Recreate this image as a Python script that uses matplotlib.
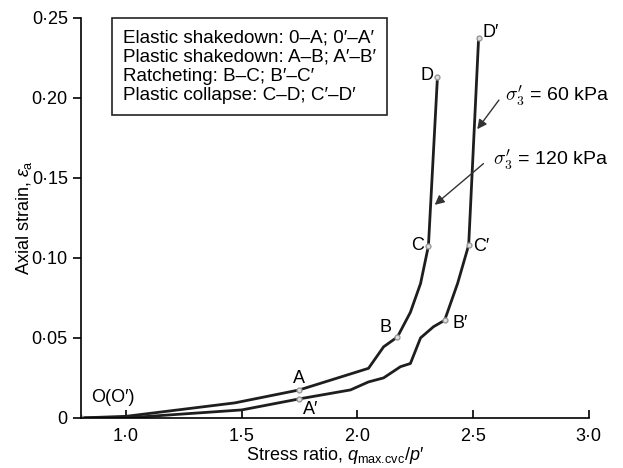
import matplotlib.pyplot as plt
from matplotlib.ticker import FuncFormatter

plt.rcParams['font.family'] = ['Liberation Sans', 'DejaVu Sans']
plt.rcParams['mathtext.fontset'] = 'custom'
plt.rcParams['mathtext.rm'] = 'Liberation Sans'
plt.rcParams['mathtext.it'] = 'Liberation Sans:italic'

# sigma'_3 = 120 kPa curve (O-A-B-C-D)
x120 = [0.805, 1.00, 1.47, 1.749, 2.048, 2.113, 2.173, 2.229, 2.273, 2.307, 2.346]
y120 = [0.0, 0.001, 0.0094, 0.0175, 0.031, 0.0444, 0.0506, 0.066, 0.084, 0.1075, 0.213]
# sigma'_3 = 60 kPa curve (O'-A'-B'-C'-D')
x60 = [0.805, 1.00, 1.50, 1.749, 1.970, 2.048, 2.113, 2.186, 2.229, 2.273, 2.329, 2.377, 2.433, 2.481, 2.524]
y60 = [0.0, 0.0, 0.005, 0.0119, 0.0175, 0.0225, 0.025, 0.032, 0.034, 0.050, 0.057, 0.061, 0.084, 0.108, 0.2375]

# labelled points
pts120 = [(0.805, 0.0), (1.749, 0.0175), (2.173, 0.0506), (2.307, 0.1075), (2.346, 0.213)]
pts60 = [(1.749, 0.0119), (2.377, 0.061), (2.481, 0.108), (2.524, 0.2375)]

fig = plt.figure(figsize=(6.23, 4.68), dpi=100)
ax = fig.add_axes([0.130, 0.107, 0.815, 0.855])

ax.plot(x120, y120, color='#1e1e1e', lw=2.0)
ax.plot(x60, y60, color='#1e1e1e', lw=2.0)
for px, py in pts120 + pts60:
    ax.plot(px, py, 'o', ms=3.5, mfc='#e0e0e0', mec='#999999', mew=1.0)

ax.set_xlim(0.805, 3.0)
ax.set_ylim(0, 0.25)
ax.set_xticks([1.0, 1.5, 2.0, 2.5, 3.0])
ax.set_yticks([0, 0.05, 0.10, 0.15, 0.20, 0.25])
ax.xaxis.set_major_formatter(FuncFormatter(lambda v, p: f'{v:.1f}'.replace('.', '\u00b7')))
ax.yaxis.set_major_formatter(FuncFormatter(lambda v, p: '0' if v == 0 else f'{v:.2f}'.replace('.', '\u00b7')))
ax.tick_params(axis='x', direction='in', length=6, width=1.2, labelsize=13, pad=7)
ax.tick_params(axis='y', direction='out', length=6, width=1.2, labelsize=13)
for s in ['top', 'right']:
    ax.spines[s].set_visible(False)
for s in ['left', 'bottom']:
    ax.spines[s].set_linewidth(1.2)

ax.set_xlabel("Stress ratio, $q_{\\mathrm{max.\\!cvc}}/p$\u2032", fontsize=13, labelpad=0)
ax.set_ylabel(r"Axial strain, $\varepsilon_{\mathrm{a}}$", fontsize=13, labelpad=-2)

# point labels
fs = 13
ax.text(0.85, 0.0125, "O(O\u2032)", fontsize=fs, ha='left', va='center')
ax.text(1.749, 0.0245, "A", fontsize=fs, ha='center', va='center')
ax.text(1.797, 0.0055, "A\u2032", fontsize=fs, ha='center', va='center')
ax.text(2.12, 0.0565, "B", fontsize=fs, ha='center', va='center')
ax.text(2.445, 0.059, "B\u2032", fontsize=fs, ha='center', va='center')
ax.text(2.26, 0.108, "C", fontsize=fs, ha='center', va='center')
ax.text(2.535, 0.107, "C\u2032", fontsize=fs, ha='center', va='center')
ax.text(2.30, 0.214, "D", fontsize=fs, ha='center', va='center')
ax.text(2.575, 0.241, "D\u2032", fontsize=fs, ha='center', va='center')

# legend-like text box
ax.text(0.987, 0.2425,
        "Elastic shakedown: 0\u2013A; 0\u2032\u2013A\u2032\n"
        "Plastic shakedown: A\u2013B; A\u2032\u2013B\u2032\n"
        "Ratcheting: B\u2013C; B\u2032\u2013C\u2032\n"
        "Plastic collapse: C\u2013D; C\u2032\u2013D\u2032",
        fontsize=13.6, ha='left', va='top', linespacing=1.15,
        bbox=dict(boxstyle='square,pad=0.6', fc='white', ec='#222222', lw=1.2))

# arrows for confining pressure
ax.annotate("", xy=(2.511, 0.179), xytext=(2.619, 0.200),
            arrowprops=dict(arrowstyle='-|>', color='#333333', lw=1.0, mutation_scale=14))
ax.text(2.64, 0.2015, r"$\sigma_3'$ = 60 kPa", fontsize=14, ha='left', va='center',
        math_fontfamily='cm')
ax.annotate("", xy=(2.325, 0.132), xytext=(2.554, 0.160),
            arrowprops=dict(arrowstyle='-|>', color='#333333', lw=1.0, mutation_scale=14))
ax.text(2.585, 0.1615, r"$\sigma_3'$ = 120 kPa", fontsize=14, ha='left', va='center',
        math_fontfamily='cm')

fig.savefig('out.png', dpi=100)
